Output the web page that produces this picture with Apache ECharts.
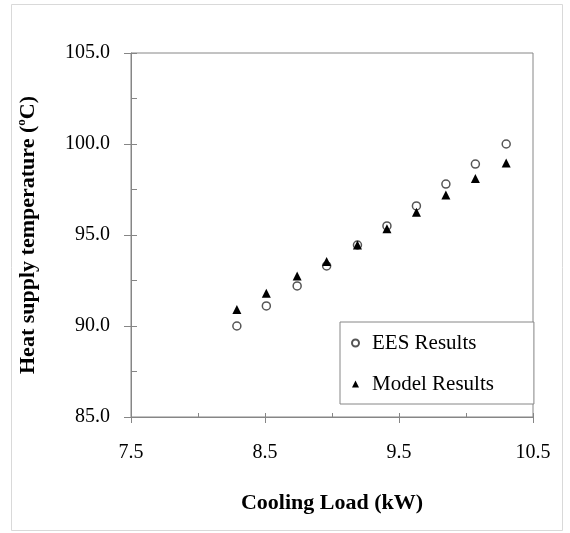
<!DOCTYPE html>
<html>
<head>
<meta charset="utf-8">
<script src="https://cdn.jsdelivr.net/npm/echarts@6/dist/echarts.min.js"></script>
<style>
  html, body { margin: 0; padding: 0; background: #fff; }
  #chart { width: 570px; height: 533px; }
</style>
</head>
<body>
<div id="chart"></div>
<script>
// Data
const coolingLoad = [8.29, 8.51, 8.74, 8.96, 9.19, 9.41, 9.63, 9.85, 10.07, 10.30];
const eesResults = [90.0, 91.1, 92.2, 93.3, 94.45, 95.5, 96.6, 97.8, 98.9, 100.0];
const modelResults = [90.9, 91.8, 92.75, 93.55, 94.45, 95.35, 96.25, 97.2, 98.1, 98.95];
const xTickLabels = [7.5, 8.5, 9.5, 10.5];
const yTickLabels = [85, 90, 95, 100, 105];
const seriesNames = ['EES Results', 'Model Results'];

const FONT = '"Liberation Serif", "Times New Roman", serif';
const AXIS_COLOR = '#868686';

const chart = echarts.init(document.getElementById('chart'));

const option = {
  backgroundColor: '#fff',
  animation: false,
  graphic: [{
    type: 'rect',
    shape: { x: 11.5, y: 4.5, width: 551, height: 526 },
    style: { fill: 'none', stroke: '#d9d9d9', lineWidth: 1 },
    silent: true
  }],
  grid: {
    left: 131, top: 53, width: 402, height: 364,
    show: true, borderColor: AXIS_COLOR, borderWidth: 1, backgroundColor: 'transparent'
  },
  legend: {
    orient: 'vertical',
    left: 340, top: 322,
    padding: [10, 40, 9, 11],
    itemGap: 19,
    itemWidth: 7, itemHeight: 7,
    borderColor: AXIS_COLOR, borderWidth: 1,
    backgroundColor: '#fff',
    textStyle: { fontFamily: FONT, fontSize: 21, color: '#000', lineHeight: 22, padding: [0, 0, 0, 8] },
    data: seriesNames
  },
  xAxis: [{
    type: 'value', position: 'bottom',
    min: 7.5, max: 10.5, interval: 0.5,
    axisLine: { show: true, lineStyle: { color: AXIS_COLOR, width: 1 } },
    axisTick: { show: true, inside: true, length: 4, lineStyle: { color: AXIS_COLOR } },
    axisLabel: {
      customValues: xTickLabels,
      formatter: v => Number(v).toFixed(1),
      fontFamily: FONT, fontSize: 20, color: '#000', margin: 26
    },
    splitLine: { show: false },
    name: 'Cooling Load (kW)',
    nameLocation: 'middle', nameGap: 75,
    nameTextStyle: { fontFamily: FONT, fontSize: 22, fontWeight: 'bold', color: '#000' }
  }, {
    type: 'value', position: 'bottom',
    min: 7.5, max: 10.5, interval: 0.5,
    axisLine: { show: false },
    axisTick: { show: true, inside: false, length: 6, customValues: xTickLabels, lineStyle: { color: AXIS_COLOR } },
    axisLabel: { show: false },
    splitLine: { show: false }
  }],
  yAxis: [{
    type: 'value', position: 'left',
    min: 85, max: 105, interval: 2.5,
    axisLine: { show: true, lineStyle: { color: AXIS_COLOR, width: 1 } },
    axisTick: { show: true, inside: true, length: 6, lineStyle: { color: AXIS_COLOR } },
    axisLabel: {
      customValues: yTickLabels,
      formatter: v => Number(v).toFixed(1),
      fontFamily: FONT, fontSize: 20, color: '#000', margin: 21
    },
    splitLine: { show: false },
    name: 'Heat supply temperature ({sup|o}C)',
    nameLocation: 'middle', nameGap: 90,
    nameTextStyle: {
      fontFamily: FONT, fontSize: 22, fontWeight: 'bold', color: '#000', lineHeight: 26,
      rich: {
        sup: { fontFamily: FONT, fontSize: 13, fontWeight: 'bold', color: '#000', verticalAlign: 'top', lineHeight: 13 }
      }
    }
  }, {
    type: 'value', position: 'left',
    min: 85, max: 105, interval: 2.5,
    axisLine: { show: false },
    axisTick: { show: true, inside: false, length: 7, customValues: yTickLabels, lineStyle: { color: AXIS_COLOR } },
    axisLabel: { show: false },
    splitLine: { show: false }
  }],
  series: [{
    name: seriesNames[0],
    type: 'scatter',
    xAxisIndex: 0, yAxisIndex: 0,
    symbol: 'circle', symbolSize: 8,
    itemStyle: { color: '#fff', borderColor: '#555', borderWidth: 1.5, opacity: 1 },
    data: coolingLoad.map((x, i) => [x, eesResults[i]])
  }, {
    name: seriesNames[1],
    type: 'scatter',
    xAxisIndex: 0, yAxisIndex: 0,
    symbol: 'triangle', symbolSize: 9,
    itemStyle: { color: '#000', opacity: 1 },
    data: coolingLoad.map((x, i) => [x, modelResults[i]])
  }]
};

chart.setOption(option);
</script>
</body>
</html>
